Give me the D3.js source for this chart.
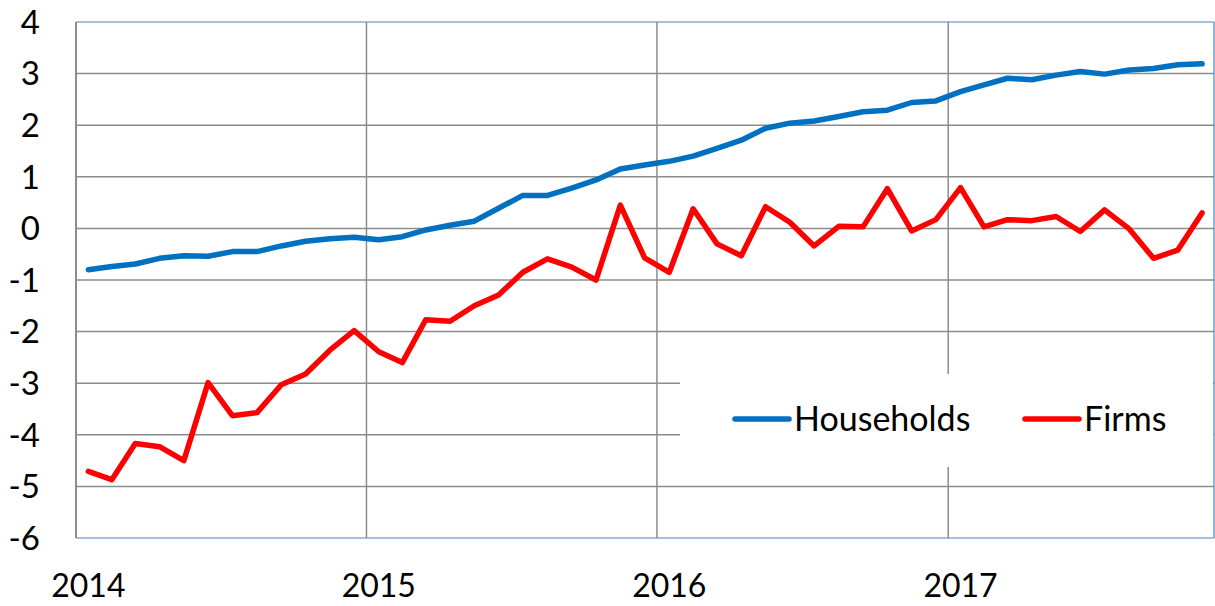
<!DOCTYPE html>
<html>
<head>
<meta charset="utf-8">
<script src="https://cdn.jsdelivr.net/npm/d3@7"></script>
<style>
  body { margin: 0; background: #fff; }
  svg text { font-family: Lato, "Open Sans", sans-serif; fill: #000; }
</style>
</head>
<body>
<svg id="chart" width="1215" height="606"></svg>
<script>
// monthly data, Jan 2014 - Nov 2017
const startMonth = new Date(2014, 0, 1);
const endMonth = new Date(2017, 11, 1);
const months = d3.timeMonth.range(startMonth, endMonth);

const households = [-0.80, -0.74, -0.69, -0.58, -0.53, -0.54, -0.45, -0.45, -0.34, -0.25, -0.20, -0.17,
                    -0.22, -0.16, -0.03, 0.06, 0.14, 0.39, 0.64, 0.64, 0.78, 0.94, 1.15, 1.23,
                    1.30, 1.40, 1.55, 1.71, 1.94, 2.04, 2.08, 2.17, 2.26, 2.29, 2.44, 2.47,
                    2.65, 2.78, 2.91, 2.88, 2.97, 3.04, 2.99, 3.07, 3.10, 3.17, 3.19];

const firms = [-4.71, -4.87, -4.17, -4.23, -4.50, -2.99, -3.63, -3.57, -3.03, -2.82, -2.36, -1.98,
               -2.39, -2.60, -1.77, -1.80, -1.50, -1.29, -0.85, -0.59, -0.75, -1.00, 0.45, -0.57,
               -0.85, 0.38, -0.30, -0.53, 0.42, 0.12, -0.34, 0.04, 0.03, 0.77, -0.05, 0.17,
               0.79, 0.03, 0.17, 0.15, 0.23, -0.06, 0.36, -0.01, -0.58, -0.42, 0.30];

const yearTicks = [2014, 2015, 2016, 2017];
const yTicks = [4, 3, 2, 1, 0, -1, -2, -3, -4, -5, -6];

const seriesNames = ["Households", "Firms"];
const seriesColors = ["#0070c0", "#ff0000"];

const plotL = 76, plotR = 1214, plotT = 22, plotB = 538;

const svg = d3.select("#chart");

const x = d3.scaleTime().domain([startMonth, endMonth]).range([plotL, plotR]);
const y = d3.scaleLinear().domain([-6, 4]).range([plotB, plotT]);

// middle of a month
const midX = d => (x(d) + x(d3.timeMonth.offset(d, 1))) / 2;

// grid
const grid = svg.append("g");
grid.selectAll("line.h")
    .data(yTicks.filter(v => v > -6 && v < 4))
    .enter().append("line")
    .attr("x1", plotL).attr("x2", plotR)
    .attr("y1", d => y(d)).attr("y2", d => y(d))
    .attr("stroke", "#8c8c8c").attr("stroke-width", 1.5);
grid.selectAll("line.v")
    .data(yearTicks.slice(1))
    .enter().append("line")
    .attr("x1", d => x(new Date(d, 0, 1))).attr("x2", d => x(new Date(d, 0, 1)))
    .attr("y1", plotT).attr("y2", plotB)
    .attr("stroke", "#8c8c8c").attr("stroke-width", 1.5);

// plot border
svg.append("line").attr("x1", plotL).attr("x2", plotR).attr("y1", plotT).attr("y2", plotT)
    .attr("stroke", "#4f81bd").attr("stroke-width", 1.2);
svg.append("line").attr("x1", plotL).attr("x2", plotR).attr("y1", plotB).attr("y2", plotB)
    .attr("stroke", "#4f81bd").attr("stroke-width", 1.2);
svg.append("line").attr("x1", plotR).attr("x2", plotR).attr("y1", plotT).attr("y2", plotB)
    .attr("stroke", "#4f81bd").attr("stroke-width", 1.2);
svg.append("line").attr("x1", plotL).attr("x2", plotL).attr("y1", plotT).attr("y2", plotB)
    .attr("stroke", "#8c8c8c").attr("stroke-width", 2);

// y labels
svg.append("g").selectAll("text")
    .data(yTicks)
    .enter().append("text")
    .attr("x", 40)
    .attr("y", d => y(d))
    .attr("dy", "0.36em")
    .attr("text-anchor", "end")
    .style("font-size", "33px")
    .text(d => d);

// x labels
svg.append("g").selectAll("text")
    .data(yearTicks)
    .enter().append("text")
    .attr("x", d => midX(new Date(d, 0, 1)))
    .attr("y", 597)
    .attr("text-anchor", "middle")
    .style("font-size", "32px")
    .text(d => d);

// lines
const line = d3.line()
    .x((d, i) => midX(months[i]))
    .y(d => y(d));

[households, firms].forEach((s, k) => {
    svg.append("path")
        .datum(s)
        .attr("d", line)
        .attr("fill", "none")
        .attr("stroke", seriesColors[k])
        .attr("stroke-width", 5.5)
        .attr("stroke-linejoin", "round")
        .attr("stroke-linecap", "round");
});

// legend
const legend = svg.append("g");
legend.append("rect")
    .attr("x", 680).attr("y", 374)
    .attr("width", plotR - 680 - 1).attr("height", 93)
    .attr("fill", "#fff");
const legX = [735, 1025];
seriesNames.forEach((name, k) => {
    legend.append("line")
        .attr("x1", legX[k]).attr("x2", legX[k] + 54)
        .attr("y1", 419).attr("y2", 419)
        .attr("stroke", seriesColors[k])
        .attr("stroke-width", 5.5)
        .attr("stroke-linecap", "round");
    legend.append("text")
        .attr("x", legX[k] + 59)
        .attr("y", 419)
        .attr("dy", "0.36em")
        .style("font-size", "34px")
        .text(name);
});
</script>
</body>
</html>
